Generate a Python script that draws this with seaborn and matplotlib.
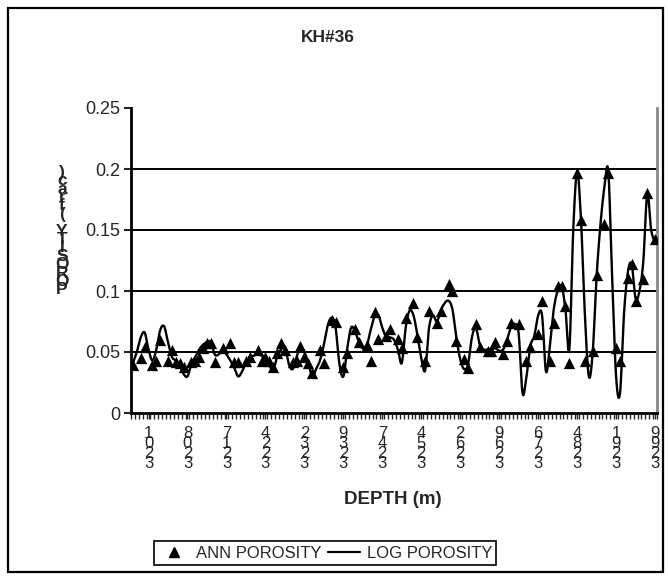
import numpy as np
import pandas as pd
import matplotlib
matplotlib.use('Agg')
import matplotlib.pyplot as plt
import seaborn as sns
from matplotlib.lines import Line2D
from matplotlib.patches import Rectangle

nan = np.nan

# Depth labels shown on the category axis (every 10th sample)
depth_labels = ['3201', '3208', '3217', '3224', '3232', '3239', '3247',
                '3254', '3262', '3269', '3276', '3284', '3291', '3299']

# Log porosity, one value per depth sample (135 samples)
log_porosity = [
    0.041, 0.050, 0.062, 0.066, 0.052, 0.043, 0.052, 0.068, 0.071, 0.058,
    0.046, 0.043, 0.039, 0.032, 0.030, 0.040, 0.046, 0.052, 0.056, 0.058,
    0.058, 0.048, 0.048, 0.052, 0.048, 0.043, 0.037, 0.030, 0.034, 0.041,
    0.045, 0.047, 0.048, 0.047, 0.045, 0.039, 0.035, 0.046, 0.052, 0.054,
    0.040, 0.036, 0.046, 0.054, 0.050, 0.041, 0.030, 0.036, 0.043, 0.056,
    0.072, 0.078, 0.070, 0.040, 0.030, 0.053, 0.070, 0.067, 0.058, 0.053,
    0.055, 0.068, 0.079, 0.080, 0.070, 0.062, 0.062, 0.060, 0.052, 0.041,
    0.070, 0.084, 0.080, 0.064, 0.045, 0.035, 0.070, 0.080, 0.075, 0.084,
    0.090, 0.092, 0.085, 0.062, 0.044, 0.036, 0.040, 0.062, 0.070, 0.056,
    0.052, 0.052, 0.052, 0.053, 0.051, 0.052, 0.060, 0.070, 0.073, 0.065,
    0.016, 0.030, 0.055, 0.063, 0.080, 0.080, 0.034, 0.055, 0.085, 0.100,
    0.104, 0.085, 0.052, 0.150, 0.198, 0.158, 0.080, 0.030, 0.050, 0.112,
    0.155, 0.185, 0.198, 0.110, 0.030, 0.016, 0.080, 0.115, 0.122, 0.094,
    0.100, 0.125, 0.180, 0.150, 0.140,
]

# ANN predicted porosity (blank where no prediction)
ann_porosity = [
    0.039, nan, 0.045, 0.054, nan, 0.039, 0.043, 0.060, nan, 0.043,
    0.052, 0.042, 0.041, 0.038, nan, 0.042, 0.043, 0.046, 0.053, 0.057,
    0.057, 0.042, nan, 0.053, nan, 0.057, 0.042, 0.042, nan, 0.043,
    0.046, nan, 0.052, 0.043, 0.046, 0.043, 0.038, 0.049, 0.057, 0.052,
    nan, 0.042, 0.043, 0.055, 0.046, 0.041, 0.033, nan, 0.052, 0.041,
    nan, 0.076, 0.075, nan, 0.038, 0.049, nan, 0.069, 0.058, nan,
    0.056, 0.043, 0.083, 0.061, nan, 0.063, 0.069, nan, 0.061, 0.053,
    0.078, nan, 0.090, 0.062, nan, 0.043, 0.084, nan, 0.074, 0.084,
    nan, 0.106, 0.100, 0.059, nan, 0.044, 0.037, nan, 0.073, 0.054,
    nan, 0.051, 0.051, 0.058, nan, 0.048, 0.059, 0.074, nan, 0.073,
    nan, 0.043, 0.054, nan, 0.065, 0.092, nan, 0.043, 0.074, 0.104,
    0.104, 0.088, 0.041, nan, 0.197, 0.158, 0.043, nan, 0.051, 0.113,
    nan, 0.155, 0.197, nan, 0.053, 0.043, nan, 0.111, 0.122, 0.092,
    nan, 0.110, 0.180, nan, 0.143,
]

n = len(log_porosity)


# Excel-style smoothed line (Catmull-Rom -> cubic Bezier)
def smooth_line(y, steps=16):
    y = np.asarray(y, dtype=float)
    x = np.arange(len(y), dtype=float)
    xp = np.concatenate([[x[0]], x, [x[-1]]])
    yp = np.concatenate([[y[0]], y, [y[-1]]])
    t = np.linspace(0, 1, steps, endpoint=False)[:, None]
    xs, ys = [], []
    for k in range(len(y) - 1):
        p0 = np.array([xp[k], yp[k]])
        p1 = np.array([xp[k + 1], yp[k + 1]])
        p2 = np.array([xp[k + 2], yp[k + 2]])
        p3 = np.array([xp[k + 3], yp[k + 3]])
        c1 = p1 + (p2 - p0) / 6
        c2 = p2 - (p3 - p1) / 6
        pts = ((1 - t) ** 3) * p1 + 3 * ((1 - t) ** 2) * t * c1 + 3 * (1 - t) * t ** 2 * c2 + t ** 3 * p2
        xs.extend(pts[:, 0])
        ys.extend(pts[:, 1])
    xs.append(x[-1])
    ys.append(y[-1])
    return np.array(xs), np.array(ys)


sx, sy = smooth_line(log_porosity)
line_df = pd.DataFrame({'sample': sx, 'porosity': sy})
ann_df = pd.DataFrame({'sample': np.arange(n), 'porosity': ann_porosity}).dropna()

sns.set_style('white')
plt.rcParams['font.family'] = ['Liberation Sans', 'DejaVu Sans']

fig = plt.figure(figsize=(6.68, 5.76), dpi=100)
ax = fig.add_axes([131 / 668, 163 / 576, 526 / 668, 305 / 576])

# horizontal gridlines
for v in [0.05, 0.1, 0.15, 0.2]:
    ax.axhline(v, color='black', lw=1.4, zorder=0)

sns.lineplot(data=line_df, x='sample', y='porosity', ax=ax, color='black',
             lw=1.7, sort=False, estimator=None, zorder=2)
sns.scatterplot(data=ann_df, x='sample', y='porosity', ax=ax, marker='^',
                s=66, color='black', edgecolor='black', linewidth=0, zorder=3)

ax.set_xlim(-0.5, n - 0.5)
ax.set_ylim(0, 0.25)
ax.set_xlabel('')
ax.set_ylabel('')

ax.set_yticks([0, 0.05, 0.1, 0.15, 0.2, 0.25])
ax.set_yticklabels(['0', '0.05', '0.1', '0.15', '0.2', '0.25'], fontsize=13)
ax.tick_params(axis='y', direction='out', length=5, width=1.5, pad=3, left=True)

# stacked category labels, Excel style (characters read bottom to top)
label_pos = np.arange(4, n, 10)
stacked = ['\n'.join(reversed(s)) for s in depth_labels]
ax.set_xticks(label_pos)
ax.set_xticklabels(stacked, fontsize=12, linespacing=0.6, va='top')
ax.set_xticks(np.arange(-0.5, n, 1), minor=True)
ax.tick_params(axis='x', which='both', direction='out', length=4, width=1,
               bottom=True, pad=5)

for side in ['left', 'bottom']:
    ax.spines[side].set_color('black')
    ax.spines[side].set_linewidth(2)
ax.spines['top'].set_visible(False)
ax.spines['right'].set_color('#888888')
ax.spines['right'].set_linewidth(2)

fig.text(328 / 668, 1 - 38 / 576, 'KH#36', ha='center', va='center',
         fontsize=12.5, fontweight='bold')
fig.text(393 / 668, 1 - 500 / 576, 'DEPTH (m)', ha='center', va='center',
         fontsize=13.5, fontweight='bold')
fig.text(62 / 668, 1 - 231 / 576, '\n'.join(reversed('POROSITY (frac)')),
         ha='center', va='center', fontsize=12.5, fontweight='bold', linespacing=0.45)

handles = [Line2D([], [], marker='^', ls='none', color='black', markersize=7),
           Line2D([], [], color='black', lw=1.6)]
leg = fig.legend(handles, ['ANN POROSITY', 'LOG POROSITY'], loc='center',
                 bbox_to_anchor=(325 / 668, 1 - 553 / 576), ncol=2, frameon=True,
                 fancybox=False, edgecolor='black', framealpha=1, fontsize=12,
                 handlelength=1.9, columnspacing=0.4, borderpad=0.25,
                 handletextpad=0.4, borderaxespad=0)
leg.get_frame().set_linewidth(1.2)

fig.add_artist(Rectangle((8 / 668, 4 / 576), 655 / 668, 564 / 576,
                         transform=fig.transFigure, fill=False, lw=1.6, ec='black'))

fig.savefig('out.png', dpi=100)
